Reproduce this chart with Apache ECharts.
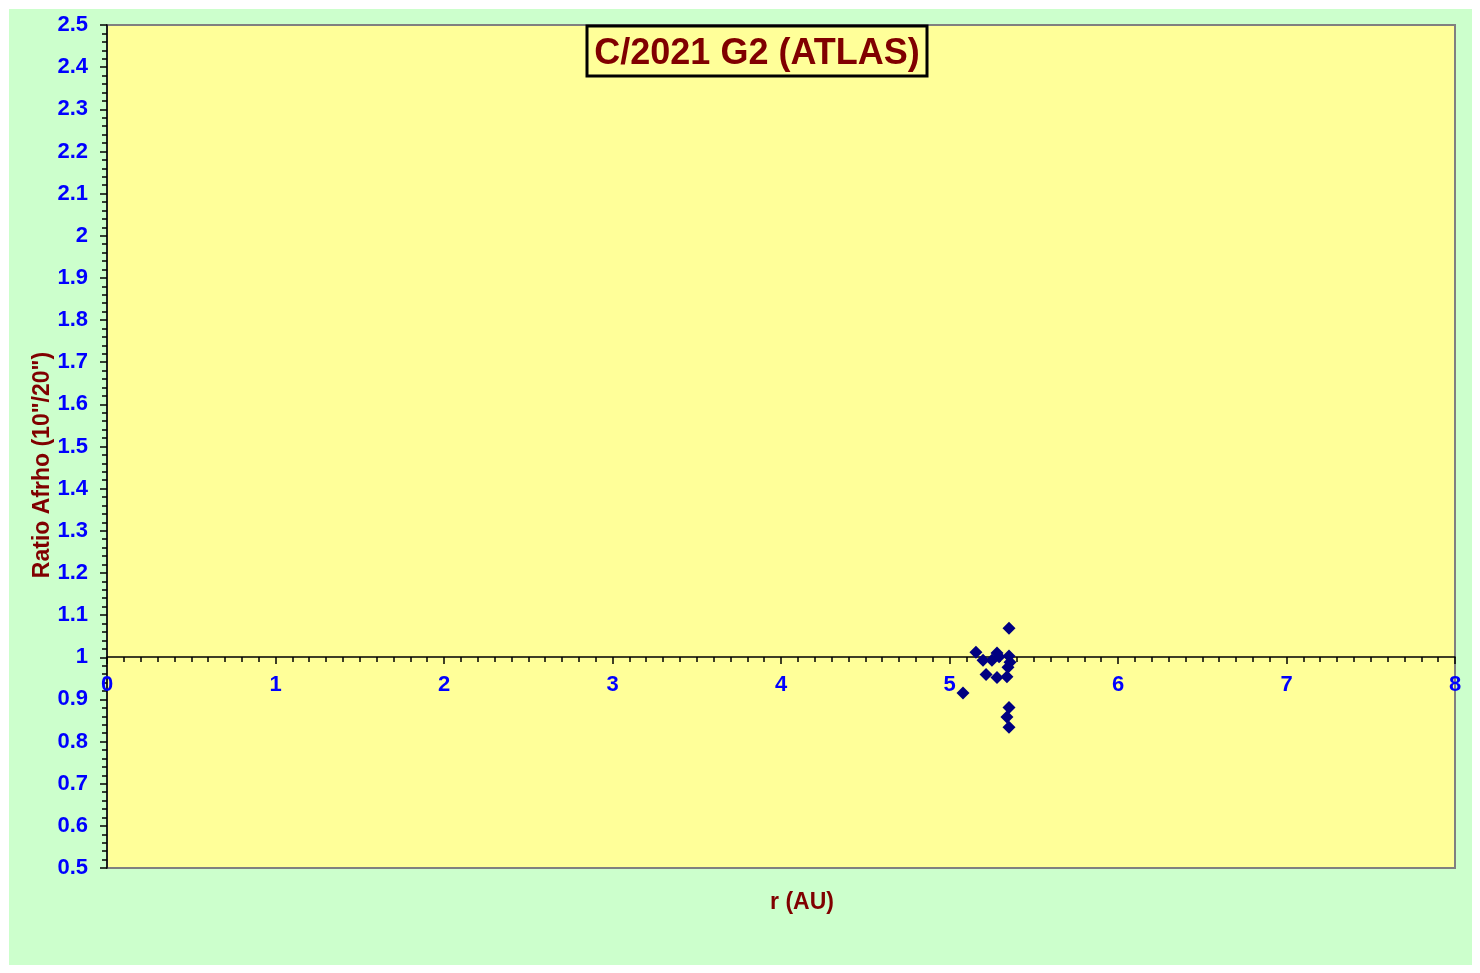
<!DOCTYPE html>
<html>
<head>
<meta charset="utf-8">
<script src="https://cdn.jsdelivr.net/npm/echarts@6/dist/echarts.min.js"></script>
<style>
html,body{margin:0;padding:0;background:#fff;}
#wrap{position:relative;width:1480px;height:973px;background:#fff;}
#chart{position:absolute;left:9px;top:9px;width:1463px;height:956px;background:#CCFFCC;}
</style>
</head>
<body>
<div id="wrap"><div id="chart"></div></div>
<script>
const titleText = 'C/2021 G2 (ATLAS)';
const xTitle = 'r (AU)';
const yTitle = 'Ratio Afrho (10"/20")';
const rValues =     [5.353, 5.157, 5.199, 5.252, 5.282, 5.294, 5.353, 5.347, 5.359, 5.217, 5.282, 5.341, 5.080, 5.353, 5.341, 5.353];
const ratioValues = [1.069, 1.012, 0.993, 0.993, 1.010, 1.001, 1.003, 0.976, 0.988, 0.959, 0.952, 0.954, 0.915, 0.881, 0.858, 0.834];

const points = rValues.map((r, i) => [r, ratioValues[i]]);
const FONT = '"Liberation Sans", Arial, sans-serif';

const chart = echarts.init(document.getElementById('chart'), null, {renderer: 'canvas'});
const gridTop = 16, gridH = 843, yMin = 0.5, yMax = 2.5;
const axisY = 1;
const offsetPx = -Math.round(gridH * (axisY - yMin) / (yMax - yMin));

chart.setOption({
  animation: false,
  grid: {
    left: 98, top: gridTop, width: 1348, height: gridH,
    show: true, backgroundColor: '#FFFF99', borderColor: '#808080', borderWidth: 2
  },
  xAxis: {
    type: 'value', min: 0, max: 8, interval: 1,
    position: 'bottom', offset: offsetPx,
    axisLine: {show: true, onZero: false, lineStyle: {color: '#000', width: 1.5}},
    axisTick: {show: true, length: 7, lineStyle: {color: '#000', width: 1.5}},
    minorTick: {show: true, splitNumber: 10, length: 5, lineStyle: {color: '#000', width: 1.5}},
    axisLabel: {color: '#0000FF', fontWeight: 'bold', fontSize: 22, fontFamily: FONT, margin: 17},
    splitLine: {show: false}
  },
  yAxis: {
    type: 'value', min: yMin, max: yMax, interval: 0.1,
    axisLine: {show: true, lineStyle: {color: '#000', width: 1.5}},
    axisTick: {show: true, length: 7, lineStyle: {color: '#000', width: 1.5}},
    minorTick: {show: true, splitNumber: 5, length: 5, lineStyle: {color: '#000', width: 1.5}},
    axisLabel: {color: '#0000FF', fontWeight: 'bold', fontSize: 22, fontFamily: FONT, margin: 19,
      formatter: v => String(Math.round(v * 10) / 10)},
    splitLine: {show: false}
  },
  series: [{
    type: 'scatter', data: points, symbol: 'diamond', symbolSize: 13,
    itemStyle: {color: '#000080', opacity: 1}
  }],
  graphic: [
    {type: 'rect', shape: {x: 578, y: 17, width: 340, height: 50},
     style: {fill: '#FFFF99', stroke: '#000', lineWidth: 3}, z: 100},
    {type: 'text', x: 748, y: 45, z: 101,
     style: {text: titleText, fill: '#800000', font: 'bold 36px ' + FONT, textAlign: 'center', textVerticalAlign: 'middle'}},
    {type: 'text', x: 793, y: 894, z: 101,
     style: {text: xTitle, fill: '#800000', font: 'bold 23px ' + FONT, textAlign: 'center', textVerticalAlign: 'middle'}},
    {type: 'text', x: 34, y: 456, rotation: Math.PI / 2, z: 101,
     style: {text: yTitle, fill: '#800000', font: 'bold 23px ' + FONT, textAlign: 'center', textVerticalAlign: 'middle'}}
  ]
});
</script>
</body>
</html>
